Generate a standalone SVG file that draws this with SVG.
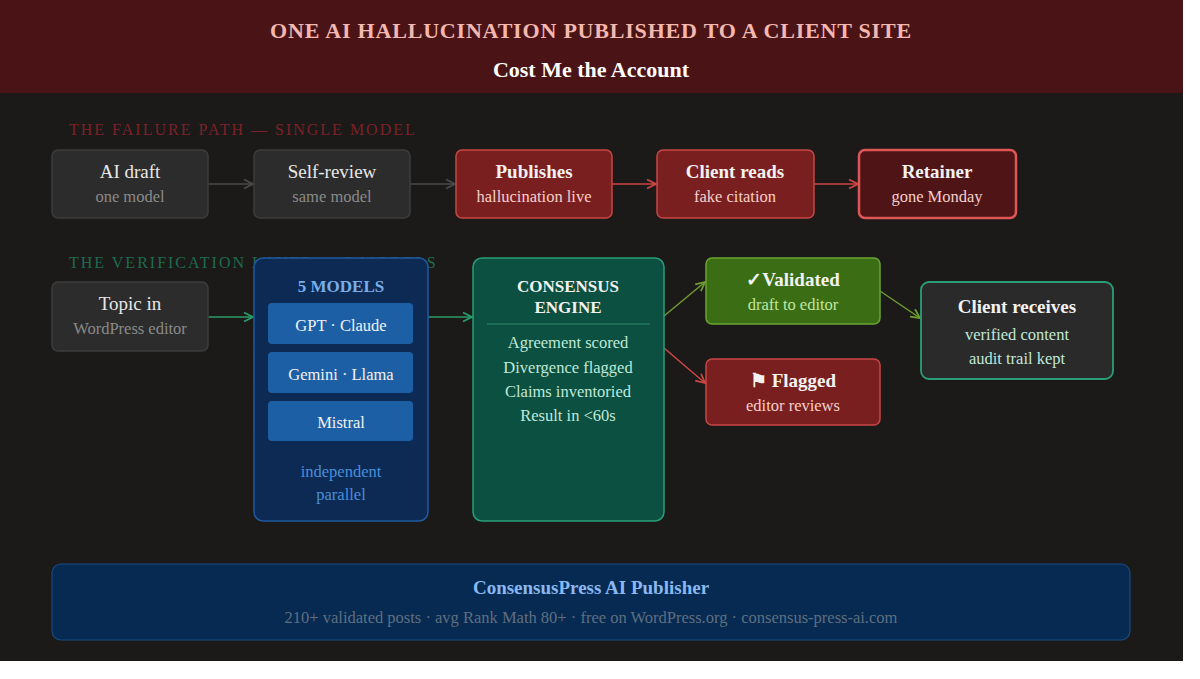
<svg xmlns="http://www.w3.org/2000/svg" width="1200" height="679" viewBox="0 0 1200 679">
<style>
text{font-family:"Liberation Serif","DejaVu Serif",serif;text-anchor:middle}
.t{font-size:19px;font-weight:bold;fill:#f2f2f2}
.tn{font-size:19px;fill:#e8e8e8}
.s{font-size:16.5px}
.lab{font-size:16px;letter-spacing:2px;text-anchor:start}
.grey{fill:#2c2c2c;stroke:#3c3c3c;stroke-width:1.5}
.red{fill:#7a1f1f;stroke:#c94545;stroke-width:1.5}
</style>
<defs>
<marker id="ag" markerWidth="8" markerHeight="8" refX="7" refY="4" orient="auto"><path d="M1,1 L7,4 L1,7" fill="none" stroke="#4a4a4a" stroke-width="1.2"/></marker>
<marker id="ar" markerWidth="8" markerHeight="8" refX="7" refY="4" orient="auto"><path d="M1,1 L7,4 L1,7" fill="none" stroke="#d04545" stroke-width="1.2"/></marker>
<marker id="agr" markerWidth="8" markerHeight="8" refX="7" refY="4" orient="auto"><path d="M1,1 L7,4 L1,7" fill="none" stroke="#2a9e68" stroke-width="1.2"/></marker>
<marker id="ao" markerWidth="8" markerHeight="8" refX="7" refY="4" orient="auto"><path d="M1,1 L7,4 L1,7" fill="none" stroke="#6e9a30" stroke-width="1.2"/></marker>
</defs>
<rect width="1200" height="679" fill="#ffffff"/>
<rect width="1183" height="661" fill="#1b1a18"/>
<g id="header">
<rect width="1183" height="93" fill="#4a1416"/>
<text x="591" y="38" style="font-size:22px;font-weight:bold;fill:#f4b8b0;letter-spacing:0.8px">ONE AI HALLUCINATION PUBLISHED TO A CLIENT SITE</text>
<text x="591" y="77" style="font-size:22px;font-weight:bold;fill:#ffffff">Cost Me the Account</text>
</g>
<text class="lab" x="69" y="135" fill="#7a2228">THE FAILURE PATH — SINGLE MODEL</text>
<text class="lab" x="69" y="268" fill="#1e6b50">THE VERIFICATION LAYER — 5 MODELS</text>
<g id="connectors" fill="none" stroke-width="1.5">
<line x1="208" y1="184" x2="253" y2="184" stroke="#4a4a4a" marker-end="url(#ag)"/>
<line x1="410" y1="184" x2="455" y2="184" stroke="#4a4a4a" marker-end="url(#ag)"/>
<line x1="612" y1="184" x2="656" y2="184" stroke="#d04545" marker-end="url(#ar)"/>
<line x1="814" y1="184" x2="858" y2="184" stroke="#d04545" marker-end="url(#ar)"/>
<line x1="208" y1="317" x2="253" y2="317" stroke="#2a9e68" marker-end="url(#agr)"/>
<line x1="428" y1="317" x2="472" y2="317" stroke="#2a9e68" marker-end="url(#agr)"/>
<line x1="664" y1="316" x2="705" y2="282" stroke="#6e9a30" marker-end="url(#ao)"/>
<line x1="664" y1="348" x2="705" y2="383" stroke="#d04545" marker-end="url(#ar)"/>
<line x1="880" y1="291" x2="920" y2="318" stroke="#6e9a30" marker-end="url(#ao)"/>
</g>
<g id="ai-draft"><rect class="grey" x="52" y="150" width="156" height="68" rx="6"/><text class="tn" x="130" y="178">AI draft</text><text class="s" x="130" y="202" fill="#8a8a8a">one model</text></g>
<g id="self-review"><rect class="grey" x="254" y="150" width="156" height="68" rx="6"/><text class="tn" x="332" y="178">Self-review</text><text class="s" x="332" y="202" fill="#8a8a8a">same model</text></g>
<g id="publishes"><rect class="red" x="456" y="150" width="156" height="68" rx="6"/><text class="t" x="534" y="178">Publishes</text><text class="s" x="534" y="202" fill="#f5d0cc">hallucination live</text></g>
<g id="client-reads"><rect class="red" x="657" y="150" width="157" height="68" rx="6"/><text class="t" x="735" y="178">Client reads</text><text class="s" x="735" y="202" fill="#f5d0cc">fake citation</text></g>
<g id="retainer"><rect x="859" y="150" width="157" height="68" rx="6" fill="#4f1416" stroke="#e05555" stroke-width="2.5"/><text class="t" x="937" y="178">Retainer</text><text class="s" x="937" y="202" fill="#f5d0cc">gone Monday</text></g>
<g id="topic-in"><rect class="grey" x="52" y="282" width="156" height="69" rx="6"/><text class="tn" x="130" y="310">Topic in</text><text class="s" x="130" y="334" fill="#8a8a8a">WordPress editor</text></g>
<g id="models">
<rect x="254" y="258" width="174" height="263" rx="9" fill="#0d2a55" stroke="#1e5aa0" stroke-width="1.5"/>
<text x="341" y="292" style="font-size:17px;font-weight:bold;fill:#7aaee8">5 MODELS</text>
<rect x="268" y="303" width="145" height="41" rx="4" fill="#1d5fa5"/><text x="341" y="331" style="font-size:16.5px;fill:#f2f2f2">GPT · Claude</text>
<rect x="268" y="352" width="145" height="41" rx="4" fill="#1d5fa5"/><text x="341" y="380" style="font-size:16.5px;fill:#f2f2f2">Gemini · Llama</text>
<rect x="268" y="401" width="145" height="40" rx="4" fill="#1d5fa5"/><text x="341" y="428" style="font-size:16.5px;fill:#f2f2f2">Mistral</text>
<text class="s" x="341" y="477" fill="#4a8fd8">independent</text><text class="s" x="341" y="500" fill="#4a8fd8">parallel</text>
</g>
<g id="consensus">
<rect x="473" y="258" width="191" height="263" rx="9" fill="#0b5040" stroke="#2a9e78" stroke-width="1.5"/>
<text x="568" y="292" style="font-size:17px;font-weight:bold;fill:#f2f2f2">CONSENSUS</text>
<text x="568" y="313" style="font-size:17px;font-weight:bold;fill:#f2f2f2">ENGINE</text>
<line x1="487" y1="324" x2="650" y2="324" stroke="#2a8a68" stroke-width="1.2"/>
<text class="s" x="568" y="348" fill="#c0e8d8">Agreement scored</text>
<text class="s" x="568" y="373" fill="#c0e8d8">Divergence flagged</text>
<text class="s" x="568" y="397" fill="#c0e8d8">Claims inventoried</text>
<text class="s" x="568" y="421" fill="#c0e8d8">Result in &lt;60s</text>
</g>
<g id="validated"><rect x="706" y="258" width="174" height="66" rx="6" fill="#3b6e14" stroke="#6aa532" stroke-width="1.5"/><text class="t" x="793" y="286">✓Validated</text><text class="s" x="793" y="310" fill="#c2e6a2">draft to editor</text></g>
<g id="flagged"><rect class="red" x="706" y="359" width="174" height="66" rx="6"/><text class="t" x="793" y="387">⚑ Flagged</text><text class="s" x="793" y="411" fill="#f5d0cc">editor reviews</text></g>
<g id="client-receives"><rect x="921" y="282" width="192" height="97" rx="8" fill="#2a2a2a" stroke="#2a9e78" stroke-width="1.8"/><text class="t" x="1017" y="313">Client receives</text><text class="s" x="1017" y="340" fill="#c0e8d8">verified content</text><text class="s" x="1017" y="364" fill="#c0e8d8">audit trail kept</text></g>
<g id="footer"><rect x="52" y="564" width="1078" height="76" rx="9" fill="#062a52" stroke="#1a4a80" stroke-width="1.2"/><text x="591" y="594" style="font-size:19px;font-weight:bold;fill:#8ab8f0">ConsensusPress AI Publisher</text><text class="s" x="591" y="623" fill="#5f6f80">210+ validated posts · avg Rank Math 80+ · free on WordPress.org · consensus-press-ai.com</text></g>
</svg>
